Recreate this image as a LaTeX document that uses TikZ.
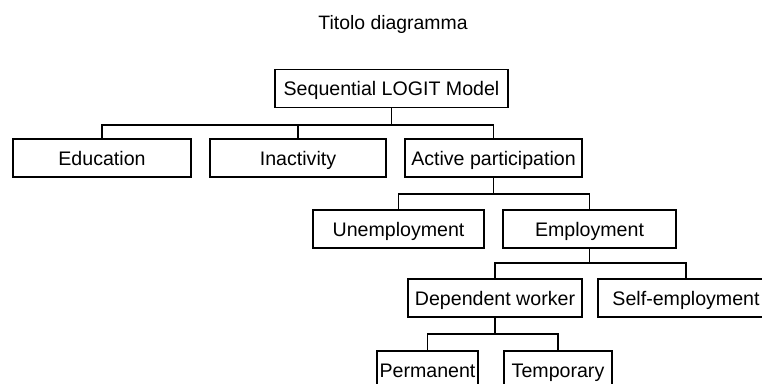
\documentclass[tikz,border=0pt]{standalone}
\usepackage{fontspec}
\setmainfont{Liberation Sans}
\begin{document}
\begin{tikzpicture}[x=1pt,y=-1pt,
  box/.style={draw=black,line width=1.8pt,minimum height=38pt,inner sep=0pt,text height=14pt,text depth=0pt,font=\fontsize{19.6}{22}\selectfont},
  conn/.style={draw=black,line width=1.8pt}]
\clip (0,0) rectangle (762,383);
\fill[white] (0,0) rectangle (762,383);
\node[font=\fontsize{19.4}{22}\selectfont,inner sep=0pt,text height=14pt,text depth=0pt] (title) at (393,22) {Titolo diagramma};
\node[box,minimum width=233pt] (root) at (391.5,88.5) {Sequential LOGIT Model};
\node[box,minimum width=178pt] (edu) at (102,158) {Education};
\node[box,minimum width=176pt] (inact) at (298,158) {Inactivity};
\node[box,minimum width=177pt] (act) at (493.5,158) {Active participation};
\node[box,minimum width=171pt] (unemp) at (398.5,229) {Unemployment};
\node[box,minimum width=173pt] (emp) at (589.5,229) {Employment};
\node[box,minimum width=174pt] (dep) at (495,298) {Dependent worker};
\node[box,minimum width=176pt] (self) at (686,298) {Self-employment};
\node[box,minimum width=101pt] (perm) at (427.5,370) {Permanent};
\node[box,minimum width=108pt] (temp) at (558,370) {Temporary};
\coordinate (l1) at (0,125);
\coordinate (l2) at (0,194);
\coordinate (l3) at (0,263);
\coordinate (l4) at (0,334);
\draw[conn] (root.south) -- (root.south |- l1);
\draw[conn] (edu.north) -- (edu.north |- l1) -- (act.north |- l1) -- (act.north);
\draw[conn] (inact.north) -- (inact.north |- l1);
\draw[conn] (act.south) -- (act.south |- l2);
\draw[conn] (unemp.north) -- (unemp.north |- l2) -- (emp.north |- l2) -- (emp.north);
\draw[conn] (emp.south) -- (emp.south |- l3);
\draw[conn] (dep.north) -- (dep.north |- l3) -- (self.north |- l3) -- (self.north);
\draw[conn] (dep.south) -- (dep.south |- l4);
\draw[conn] (perm.north) -- (perm.north |- l4) -- (temp.north |- l4) -- (temp.north);
\end{tikzpicture}
\end{document}
